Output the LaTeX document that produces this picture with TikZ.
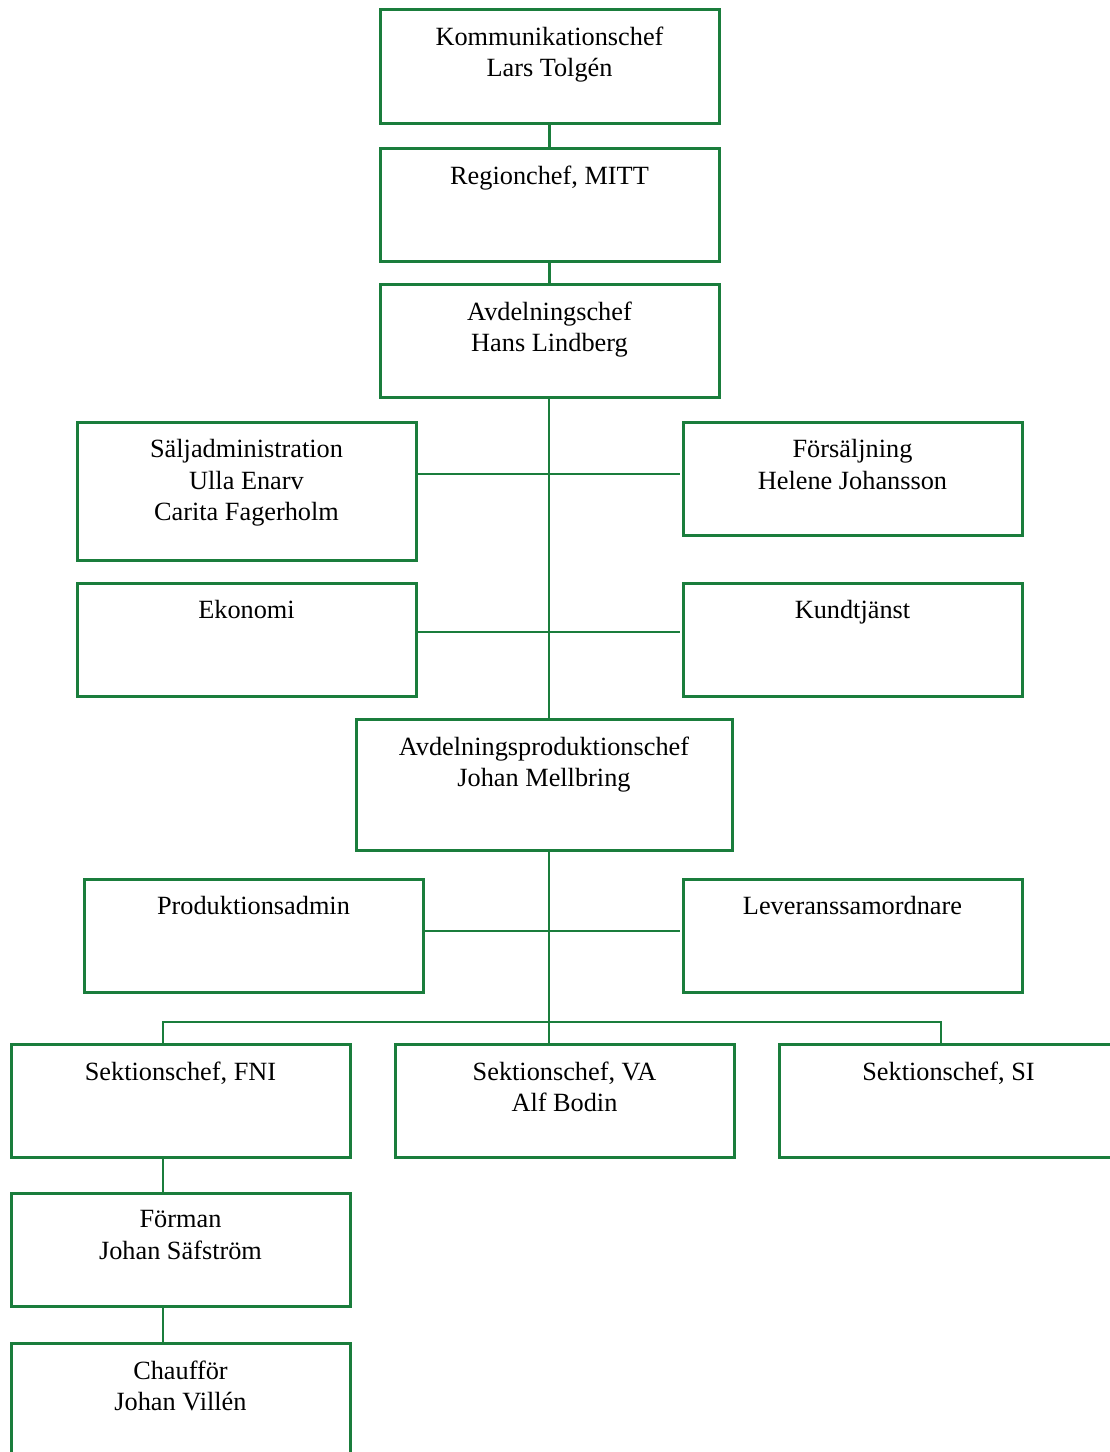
\documentclass[tikz,border=0pt]{standalone}
\usepackage{fontspec}
\setmainfont{Liberation Serif}
\usetikzlibrary{calc}
\definecolor{orggreen}{RGB}{26,125,60}
\begin{document}
\begin{tikzpicture}[x=1pt,y=-1pt,
  box/.style={draw=orggreen,line width=3pt,rectangle,inner sep=0pt,fill=none},
  lbl/.style={anchor=north,align=center,inner sep=0pt,font=\fontsize{26.3}{31.5}\selectfont},
  conn/.style={draw=orggreen,line width=2.3pt}]
\clip (0,0) rectangle (1110,1452);
% boxes
\node[box,minimum width=339pt,minimum height=114pt] (k1) at (549.5,66) {};
\node[box,minimum width=339pt,minimum height=113pt] (k2) at (549.5,204.5) {};
\node[box,minimum width=339pt,minimum height=113pt] (k3) at (549.5,340.5) {};
\node[box,minimum width=339pt,minimum height=138pt] (sa) at (246.5,491) {};
\node[box,minimum width=339pt,minimum height=113pt] (fs) at (852.5,478.5) {};
\node[box,minimum width=339pt,minimum height=113pt] (ek) at (246.5,639.5) {};
\node[box,minimum width=339pt,minimum height=113pt] (kt) at (852.5,639.5) {};
\node[box,minimum width=376pt,minimum height=131pt] (ap) at (544,784.5) {};
\node[box,minimum width=339pt,minimum height=113pt] (pa) at (253.5,935.5) {};
\node[box,minimum width=339pt,minimum height=113pt] (le) at (852.5,935.5) {};
\node[box,minimum width=339pt,minimum height=113pt] (s1) at (180.5,1100.5) {};
\node[box,minimum width=339pt,minimum height=113pt] (s2) at (564.5,1100.5) {};
\node[box,minimum width=339pt,minimum height=113pt] (s3) at (948.5,1100.5) {};
\node[box,minimum width=339pt,minimum height=113pt] (fm) at (180.5,1249.5) {};
\node[box,minimum width=339pt,minimum height=113pt] (ch) at (180.5,1399.5) {};
% labels
\node[lbl] (t1) at ($(k1.north)+(0,19)$) {Kommunikationschef\\Lars Tolgén};
\node[lbl] (t2) at ($(k2.north)+(0,19)$) {Regionchef, MITT};
\node[lbl] (t3) at ($(k3.north)+(0,19)$) {Avdelningschef\\Hans Lindberg};
\node[lbl] (t4) at ($(sa.north)+(0,19)$) {Säljadministration\\Ulla Enarv\\Carita Fagerholm};
\node[lbl] (t5) at ($(fs.north)+(0,19)$) {Försäljning\\Helene Johansson};
\node[lbl] (t6) at ($(ek.north)+(0,19)$) {Ekonomi};
\node[lbl] (t7) at ($(kt.north)+(0,19)$) {Kundtjänst};
\node[lbl] (t8) at ($(ap.north)+(0,19)$) {Avdelningsproduktionschef\\Johan Mellbring};
\node[lbl] (t9) at ($(pa.north)+(0,19)$) {Produktionsadmin};
\node[lbl] (t10) at ($(le.north)+(0,19)$) {Leveranssamordnare};
\node[lbl] (t11) at ($(s1.north)+(0,19)$) {Sektionschef, FNI};
\node[lbl] (t12) at ($(s2.north)+(0,19)$) {Sektionschef, VA\\Alf Bodin};
\node[lbl] (t13) at ($(s3.north)+(0,19)$) {Sektionschef, SI};
\node[lbl] (t14) at ($(fm.north)+(0,19)$) {Förman\\Johan Säfström};
\node[lbl] (t15) at ($(ch.north)+(0,19)$) {Chaufför\\Johan Villén};
% coordinates
\coordinate (r1) at (680,474);
\coordinate (r2) at (680,632);
\coordinate (r3) at (680,931);
\coordinate (bus) at (549,1022);
\coordinate (busL) at (163,1022);
\coordinate (busR) at (941,1022);
% connectors
\draw[conn] (k1.south) -- (k2.north);
\draw[conn] (k2.south) -- (k3.south |- k2.south) -- (k3.north);
\draw[conn] (k3.south -| bus) -- (bus |- ap.north);
\draw[conn] (sa.east |- r1) -- (r1);
\draw[conn] (ek.east |- r2) -- (r2);
\draw[conn] (pa.east |- r3) -- (r3);
\draw[conn] (ap.south -| bus) -- (bus) -- (bus |- s2.north);
\draw[conn] (busL |- s1.north) -- (busL) -- (busR) -- (busR |- s3.north);
\draw[conn] (busL |- s1.south) -- (busL |- fm.north);
\draw[conn] (busL |- fm.south) -- (busL |- ch.north);
\end{tikzpicture}
\end{document}
